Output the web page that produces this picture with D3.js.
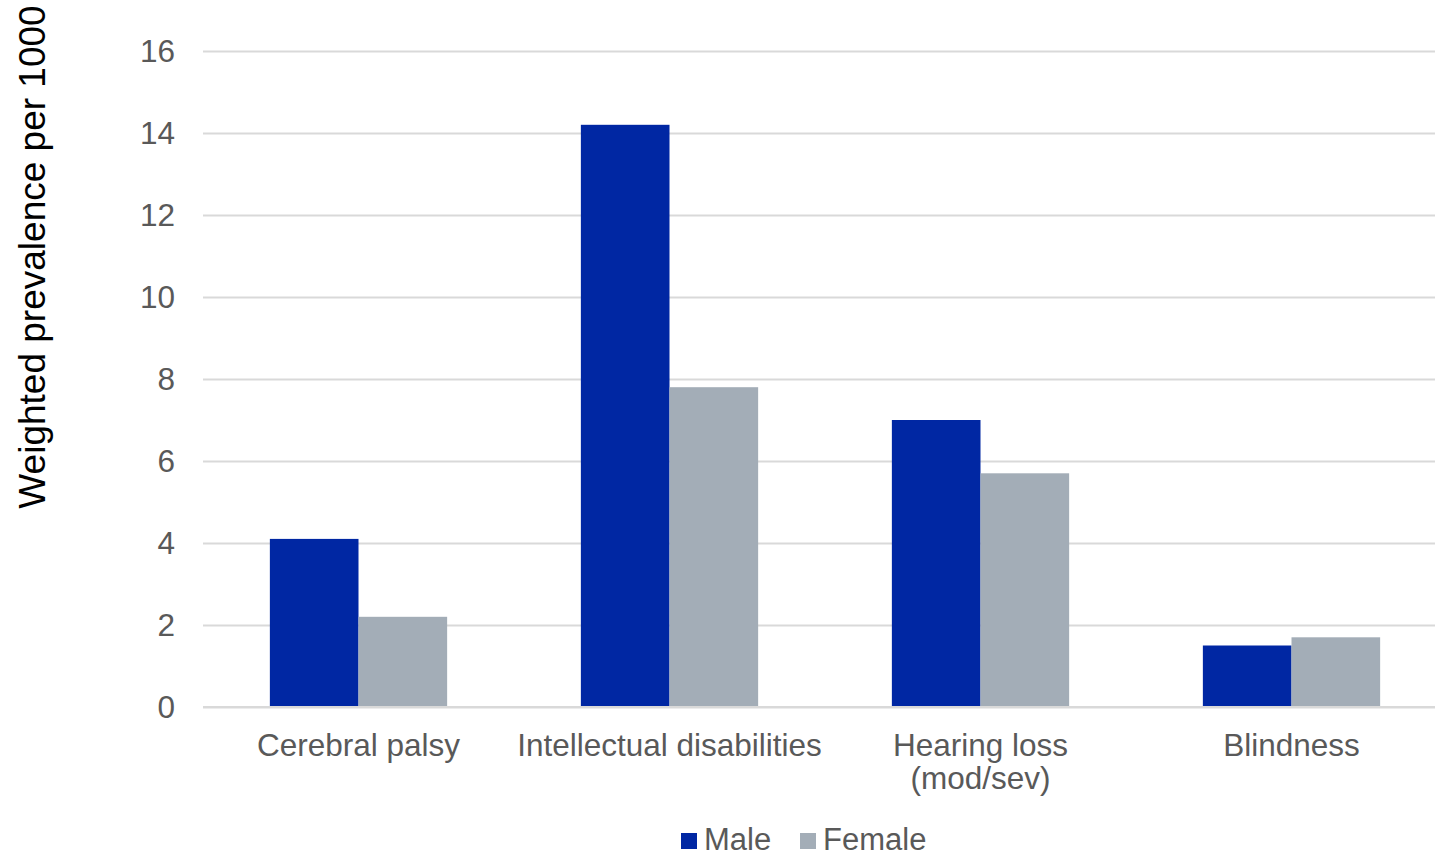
<!DOCTYPE html>
<html><head><meta charset="utf-8">
<script src="https://cdn.jsdelivr.net/npm/d3@7/dist/d3.min.js"></script>
<style>body{margin:0;background:#fff}svg{display:block}text{font-family:"Liberation Sans",Arial,sans-serif}</style>
</head><body>
<svg id="c" width="1435" height="857"></svg>
<script>
const categories = [["Cerebral palsy"], ["Intellectual disabilities"], ["Hearing loss", "(mod/sev)"], ["Blindness"]];
const seriesNames = ["Male", "Female"];
const maleValues = [4.1, 14.2, 7.0, 1.5];
const femaleValues = [2.2, 7.8, 5.7, 1.7];
const yTicks = [0, 2, 4, 6, 8, 10, 12, 14, 16];
const colors = ["#0027A3", "#A3ADB7"];

(function () {
const svg = d3.select("#c");
const mLeft = 203, mRight = 1447, gridRight = 1435, mTop = 51, mBottom = 707;
const fs = 31.5;
const x = d3.scaleBand().domain(d3.range(categories.length)).range([mLeft, mRight]).paddingInner(0.43).paddingOuter(0.215);
const y = d3.scaleLinear().domain([0, 16]).range([mBottom, mTop]);
const xs = d3.scaleBand().domain(seriesNames).range([0, x.bandwidth()]);

const yAxis = svg.append("g").attr("transform", `translate(${mLeft},0)`)
  .call(d3.axisLeft(y).tickValues(yTicks).tickSize(-(gridRight - mLeft)).tickPadding(28));
yAxis.select(".domain").remove();
yAxis.selectAll(".tick line").attr("stroke", "#D9D9D9").attr("stroke-width", 2);
yAxis.selectAll(".tick text").attr("fill", "#595959").attr("font-size", fs).attr("font-family", "Liberation Sans, Arial, sans-serif");

const data = [maleValues, femaleValues];
const g = svg.append("g");
categories.forEach((c, i) => {
  seriesNames.forEach((s, j) => {
    g.append("rect").attr("x", x(i) + xs(s)).attr("width", xs.bandwidth())
      .attr("y", y(data[j][i])).attr("height", y(0) - y(data[j][i])).attr("fill", colors[j]);
  });
});
svg.append("line").attr("x1", mLeft).attr("x2", gridRight).attr("y1", y(0)).attr("y2", y(0)).attr("stroke", "#D9D9D9").attr("stroke-width", 2);

const xl = svg.append("g");
categories.forEach((c, i) => {
  const cx = x(i) + x.bandwidth() / 2;
  const t = xl.append("text").attr("x", cx).attr("y", 756).attr("text-anchor", "middle")
    .attr("fill", "#595959").attr("font-size", fs);
  c.forEach((line, k) => t.append("tspan").attr("x", cx).attr("dy", k === 0 ? 0 : 33).text(line));
});

svg.append("text").attr("transform", "translate(45,257) rotate(-90)").attr("text-anchor", "middle")
  .attr("fill", "#000").attr("font-size", 37).text("Weighted prevalence per 1000");

const legend = svg.append("g");
const lx = [681, 800];
seriesNames.forEach((s, j) => {
  legend.append("rect").attr("x", lx[j]).attr("y", 833).attr("width", 16).attr("height", 16).attr("fill", colors[j]);
  legend.append("text").attr("x", lx[j] + 23).attr("y", 850).attr("fill", "#595959").attr("font-size", 31).text(s);
});
})();
</script>
</body></html>
